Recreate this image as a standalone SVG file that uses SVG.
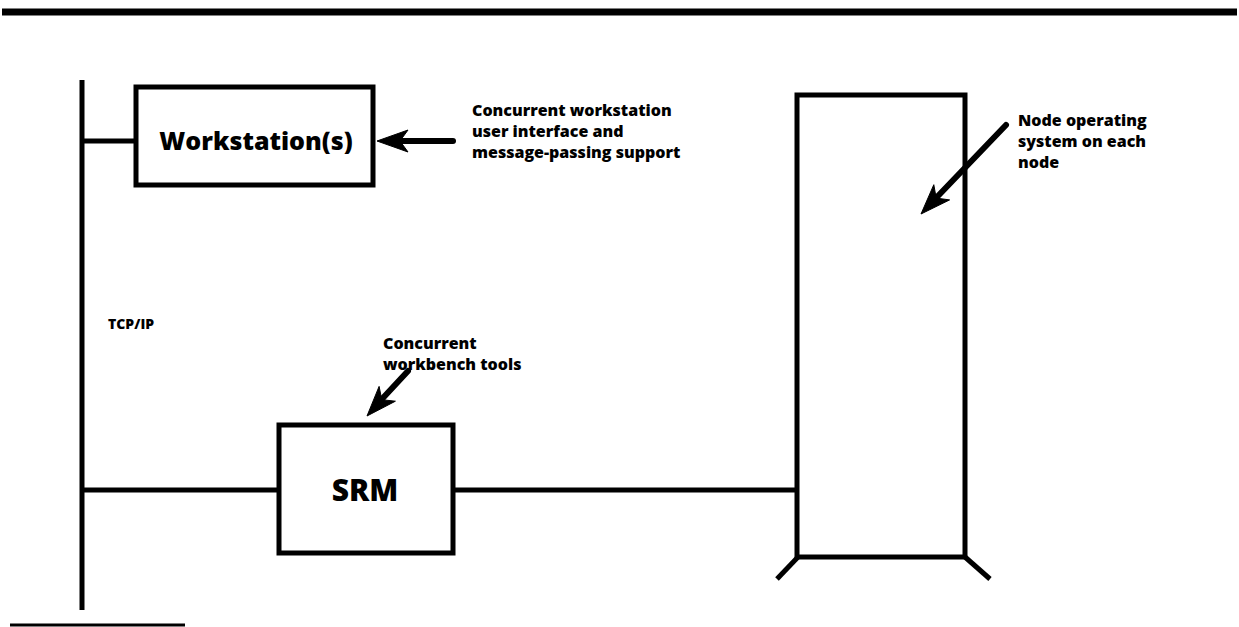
<svg xmlns="http://www.w3.org/2000/svg" width="1239" height="627" viewBox="0 0 1239 627">
<style>
.ln{stroke:#000;stroke-width:5;fill:none;stroke-linecap:butt}
.ar{stroke:#000;stroke-width:6;fill:none;stroke-linecap:round}
.hd{fill:#000;stroke:#000;stroke-width:1;stroke-linejoin:miter}
.bx{stroke:#000;stroke-width:5;fill:none}
.t{font-family:"Open Sans","Liberation Sans",sans-serif;font-weight:800;fill:#000}
.lab{font-size:16px}
</style>
<rect width="1239" height="627" fill="#fff"/>
<line x1="2" y1="12" x2="1237" y2="12" stroke="#000" stroke-width="7"/>
<line x1="10" y1="625" x2="185" y2="625" stroke="#000" stroke-width="3"/>
<g id="workstation">
<rect class="bx" x="136" y="87" width="237" height="98"/>
<text class="t" x="256" y="150" font-size="25" text-anchor="middle">Workstation(s)</text>
</g>
<g id="srm">
<rect class="bx" x="279" y="425" width="174" height="128"/>
<text class="t" x="365" y="501" font-size="30" text-anchor="middle">SRM</text>
</g>
<g id="node">
<rect class="bx" x="797" y="95" width="168" height="462"/>
<line class="ln" x1="798" y1="557" x2="777" y2="579" stroke-linecap="round"/>
<line class="ln" x1="965" y1="557" x2="990" y2="579" stroke-linecap="round"/>
</g>
<g id="connectors">
<line class="ln" x1="82" y1="80" x2="82" y2="610"/>
<line class="ln" x1="82" y1="141" x2="136" y2="141"/>
<line class="ln" x1="82" y1="490" x2="279" y2="490"/>
<line class="ln" x1="453" y1="490" x2="797" y2="490"/>
<line class="ar" x1="453" y1="141" x2="400" y2="141"/>
<polygon class="hd" points="377,141 408,130 400,141 408,152"/>
<line class="ar" x1="1006" y1="125" x2="937" y2="197"/>
<polygon class="hd" points="921,214 949.6,199.9 936.2,198.1 933.8,184.7"/>
<line class="ar" x1="408" y1="371" x2="382" y2="399"/>
<polygon class="hd" points="367,416 395.4,401.2 381.8,399.7 379.1,386.4"/>
</g>
<g id="labels">
<text class="t lab" x="472"><tspan x="472" y="116">Concurrent workstation</tspan><tspan x="472" y="137">user interface and</tspan><tspan x="472" y="158">message-passing support</tspan></text>
<text class="t lab" x="1018"><tspan x="1018" y="126">Node operating</tspan><tspan x="1018" y="147">system on each</tspan><tspan x="1018" y="168">node</tspan></text>
<text class="t" x="108" y="329" font-size="14">TCP/IP</text>
<text class="t lab" x="383"><tspan x="383" y="349">Concurrent</tspan><tspan x="383" y="370">workbench tools</tspan></text>
</g>
</svg>
